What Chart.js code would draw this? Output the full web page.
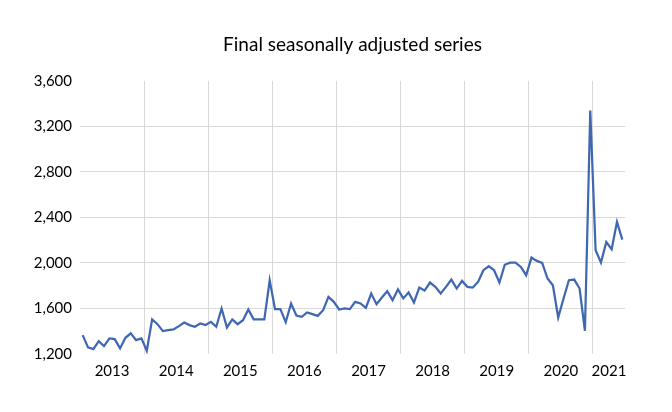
<!DOCTYPE html>
<html lang="en">
<head>
  <meta charset="UTF-8">
  <title>Final seasonally adjusted series</title>
  <script src="https://cdn.jsdelivr.net/npm/chart.js"></script>
  <style>
    body { margin: 0; background: #fff; }
    canvas { display: block; }
  </style>
</head>
<body>
  <canvas id="seriesChart" width="672" height="412"></canvas>

  <script>
    // monthly values, Jan 2013 .. Jun 2021
    const startYear = 2013;
    const yearLabels = ['2013', '2014', '2015', '2016', '2017', '2018', '2019', '2020', '2021'];
    const yTicks = [1200, 1600, 2000, 2400, 2800, 3200, 3600];
    const values = [
      1366, 1258, 1243, 1313, 1269, 1337, 1331, 1249, 1342, 1381, 1322, 1337,
      1228, 1504, 1462, 1401, 1410, 1416, 1445, 1477, 1454, 1439, 1468, 1454,
      1482, 1439, 1600, 1433, 1504, 1462, 1497, 1591, 1504, 1504, 1504, 1848,
      1594, 1594, 1480, 1644, 1538, 1527, 1565, 1550, 1535, 1585, 1702, 1658,
      1591, 1600, 1594, 1658, 1644, 1605, 1731, 1638, 1696, 1752, 1673, 1767,
      1688, 1740, 1653, 1784, 1757, 1828, 1790, 1731, 1790, 1854, 1775, 1842,
      1790, 1784, 1833, 1936, 1971, 1936, 1828, 1984, 2003, 2003, 1965, 1892,
      2047, 2018, 2000, 1863, 1804, 1521, 1688, 1848, 1854, 1775, 1404, 3339,
      2111, 2003, 2184, 2120, 2360, 2205
    ];

    const nMonths = values.length;
    const points = values.map((v, i) => ({ x: i + 0.5, y: v }));

    // year boundaries get grid lines, year middles get the labels
    const xTicks = [];
    yearLabels.forEach((y, i) => {
      const start = i * 12;
      const end = Math.min(start + 12, nMonths);
      if (i > 0) xTicks.push({ value: start });
      xTicks.push({ value: (start + end) / 2, label: y });
    });

    const font = { family: 'Lato', size: 15 };

    new Chart(document.getElementById('seriesChart'), {
      type: 'line',
      data: {
        datasets: [{
          data: points,
          borderColor: '#4068B2',
          borderWidth: 2.25,
          pointRadius: 0,
          tension: 0,
          fill: false
        }]
      },
      options: {
        responsive: false,
        animation: false,
        layout: { padding: { left: 0, right: 47, top: 0, bottom: 28 } },
        plugins: {
          legend: { display: false },
          tooltip: { enabled: false },
          title: {
            display: true,
            fullSize: false,
            text: 'Final seasonally adjusted series',
            color: '#000',
            font: { family: 'Lato', size: 19, weight: 'normal', lineHeight: 1.2 },
            padding: { top: 33, bottom: 25 }
          }
        },
        scales: {
          x: {
            type: 'linear',
            min: 0,
            max: nMonths,
            border: { display: false },
            grid: {
              drawTicks: false,
              color: ctx => (ctx.tick && ctx.tick.value % 12 === 0 && ctx.tick.value > 0 && ctx.tick.value < nMonths) ? '#d9d9d9' : 'rgba(0,0,0,0)'
            },
            afterBuildTicks: axis => { axis.ticks = xTicks.map(t => ({ value: t.value })); },
            afterFit: axis => { axis.height = 30; },
            ticks: {
              autoSkip: false,
              maxRotation: 0,
              padding: 8,
              color: '#000',
              font: font,
              callback: value => {
                const t = xTicks.find(k => k.value === value);
                return t && t.label ? t.label : '';
              }
            }
          },
          y: {
            min: 1200,
            max: 3600,
            border: { display: false },
            grid: {
              drawTicks: false,
              color: ctx => (ctx.tick && ctx.tick.value > 1200 && ctx.tick.value < 3600) ? '#d9d9d9' : 'rgba(0,0,0,0)'
            },
            afterBuildTicks: axis => { axis.ticks = yTicks.map(v => ({ value: v })); },
            afterFit: axis => { axis.width = 80; },
            ticks: {
              padding: 8,
              color: '#000',
              font: font,
              callback: value => value.toLocaleString('en-US')
            }
          }
        }
      }
    });
  </script>
</body>
</html>
